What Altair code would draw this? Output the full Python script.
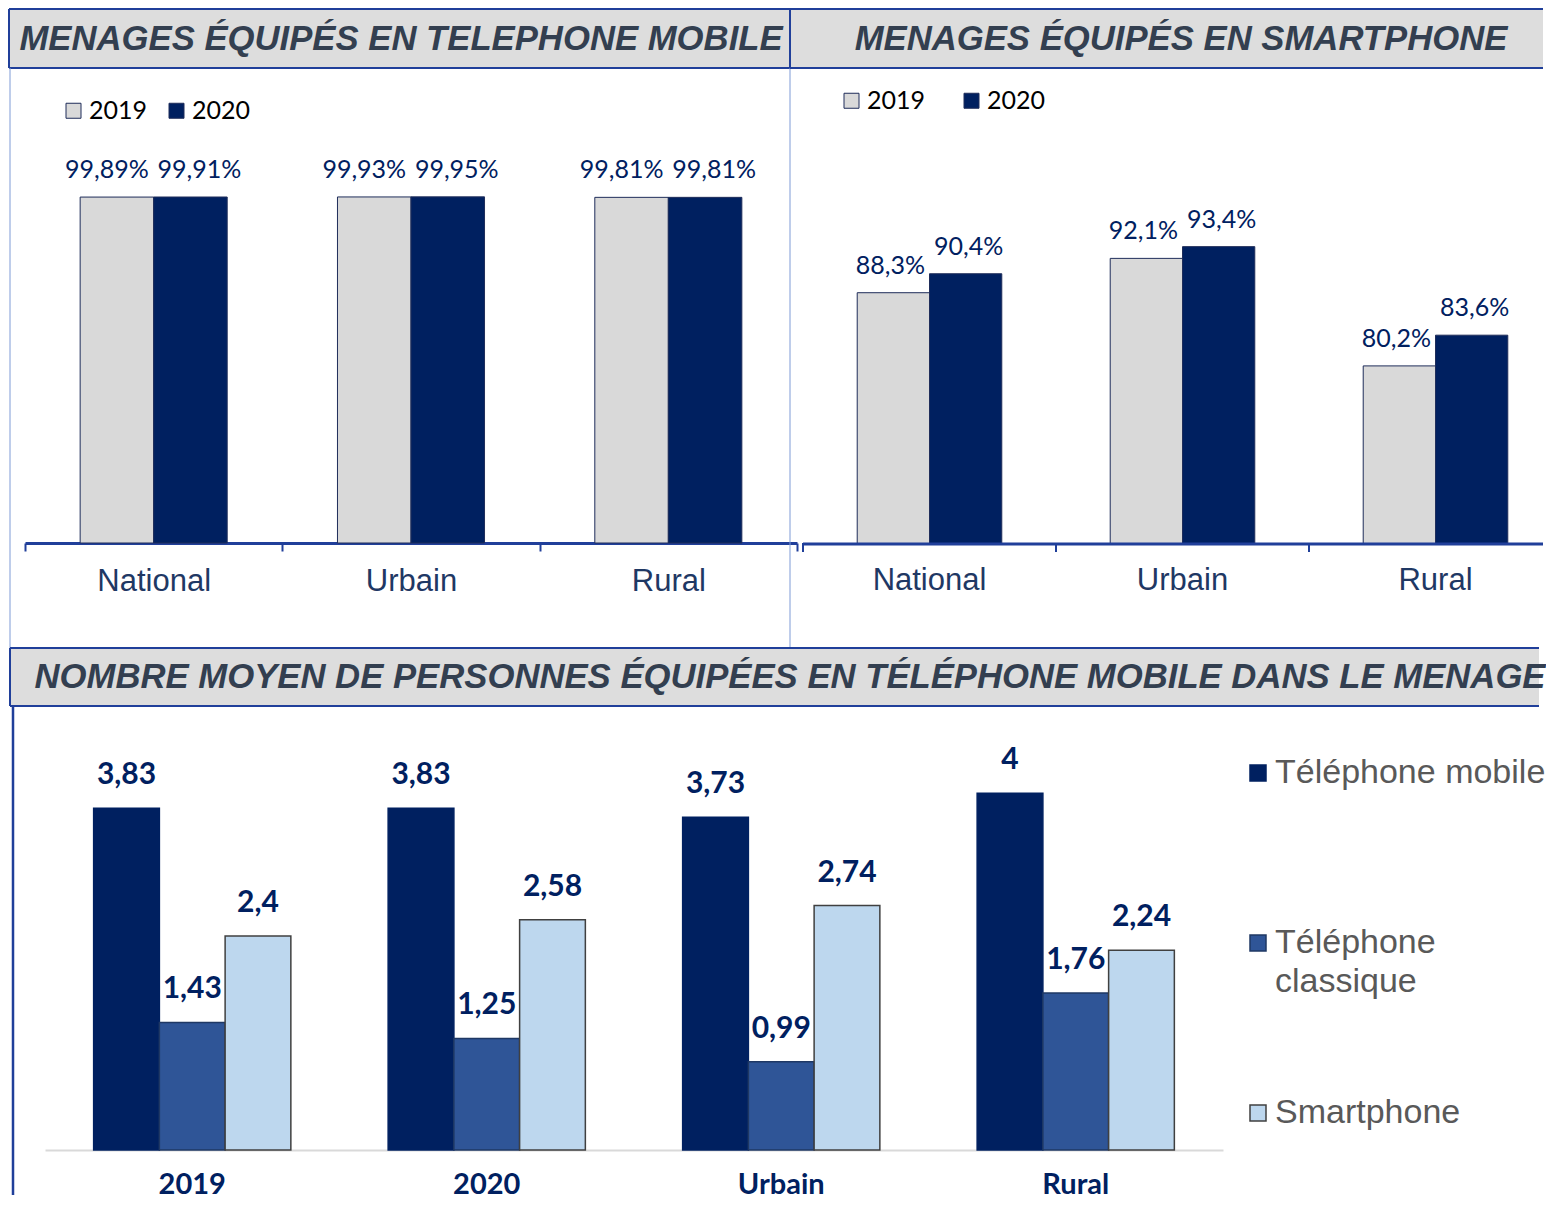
import altair as alt
import pandas as pd

# ---------------- data ----------------
regions = ["National", "Urbain", "Rural"]
years = ["2019", "2020"]
mobile_2019 = [99.89, 99.93, 99.81]
mobile_2020 = [99.91, 99.95, 99.81]
smart_2019 = [88.3, 92.1, 80.2]
smart_2020 = [90.4, 93.4, 83.6]

groups = ["2019", "2020", "Urbain", "Rural"]
series = ["Téléphone mobile", "Téléphone classique", "Smartphone"]
nb_mobile = [3.83, 3.83, 3.73, 4]
nb_classique = [1.43, 1.25, 0.99, 1.76]
nb_smartphone = [2.4, 2.58, 2.74, 2.24]

titles = [
    "MENAGES ÉQUIPÉS EN TELEPHONE MOBILE",
    "MENAGES ÉQUIPÉS EN SMARTPHONE",
    "NOMBRE MOYEN DE PERSONNES ÉQUIPÉES EN TÉLÉPHONE MOBILE DANS LE MENAGE",
]


def fr(v, dec=None):
    s = f"{v:.{dec}f}" if dec is not None else f"{v:g}"
    return s.replace(".", ",")


def pct_table(v19, v20, dec):
    rows = []
    for r, a, b in zip(regions, v19, v20):
        rows.append({"region": r, "year": years[0], "value": a, "label": fr(a, dec) + "%"})
        rows.append({"region": r, "year": years[1], "value": b, "label": fr(b, dec) + "%"})
    return pd.DataFrame(rows)


df_mob = pct_table(mobile_2019, mobile_2020, 2)
df_smart = pct_table(smart_2019, smart_2020, 1)

rows = []
for g, a, b, c in zip(groups, nb_mobile, nb_classique, nb_smartphone):
    for s, v in zip(series, (a, b, c)):
        rows.append({"group": g, "series": s, "value": v, "label": fr(v)})
df_nb = pd.DataFrame(rows)

# ---------------- styles ----------------
NAVY = "#002060"
LIGHT = "#D9D9D9"
FRAME = "#203F9A"
THIN = "#7F9BD6"
TITLE_FILL = "#DDDDDD"
TITLE_COLOR = "#333F50"
AXIS_TXT = "#1F3864"
CAL = "Lato"
ARIAL = "Liberation Sans"

TOP_H = 356
LEFT_W = 772
RIGHT_W = 740
RIGHT_RANGE = 759
BOT_W = 1516
BOT_H = 410


def title_box(title, x0, x1, y0, y1, tx, ty, left=True):
    d = alt.Chart(pd.DataFrame({"title": [title]}))
    layers = [
        d.mark_rect(color=TITLE_FILL).encode(
            x=alt.value(x0), x2=alt.value(x1), y=alt.value(y0), y2=alt.value(y1)),
        d.mark_rule(color=FRAME, strokeWidth=2).encode(
            x=alt.value(x0), x2=alt.value(x1), y=alt.value(y0)),
        d.mark_rule(color=FRAME, strokeWidth=2).encode(
            x=alt.value(x0), x2=alt.value(x1), y=alt.value(y1)),
    ]
    if left:
        layers.append(d.mark_rule(color=FRAME, strokeWidth=2).encode(
            x=alt.value(x0), y=alt.value(y0), y2=alt.value(y1)))
    layers.append(d.mark_text(font=ARIAL, fontSize=34.7, fontWeight="bold", fontStyle="italic",
                              color=TITLE_COLOR, align="center", baseline="middle").encode(
        x=alt.value(tx), y=alt.value(ty), text="title:N"))
    return layers


def vline(x, y0, y1, color, w):
    return alt.Chart(pd.DataFrame({"k": [0]})).mark_rule(color=color, strokeWidth=w).encode(
        x=alt.value(x), y=alt.value(y0), y2=alt.value(y1))


def pct_panel(df, width, xrange, ydomain, title_layers, legend_x, legend_y, col_pad, dx19, dx20,
              clip, native_axis):
    scale_x = alt.Scale(paddingInner=0, paddingOuter=0) if xrange is None else \
        alt.Scale(range=[0, xrange], paddingInner=0, paddingOuter=0)
    if native_axis:
        axis = alt.Axis(title=None, labelAngle=0, domainColor=FRAME, domainWidth=3,
                        tickColor=FRAME, tickWidth=2, tickSize=8, tickBand="extent",
                        labelFont=ARIAL, labelFontSize=31, labelColor=AXIS_TXT,
                        labelPadding=15, grid=False)
    else:
        axis = None
    xenc = alt.X("region:N", sort=regions, scale=scale_x, axis=axis)
    xoff = alt.XOffset("year:N", sort=years,
                       scale=alt.Scale(domain=years, paddingInner=0, paddingOuter=0.75))
    yenc = alt.Y("value:Q", scale=alt.Scale(domain=ydomain, zero=False), axis=None)
    base = alt.Chart(df)
    bars = base.mark_bar(stroke="#1F2D5A", strokeWidth=1, clip=clip).encode(
        x=xenc, xOffset=xoff, y=yenc,
        color=alt.Color("year:N", sort=years,
                        scale=alt.Scale(domain=years, range=[LIGHT, NAVY]),
                        legend=alt.Legend(title=None, orient="none", legendX=legend_x, legendY=legend_y,
                                          direction="horizontal", symbolType="square", symbolSize=225,
                                          symbolStrokeColor="#1F2D5A", symbolStrokeWidth=1,
                                          labelFont=CAL, labelFontSize=25, labelColor="#000000",
                                          labelOffset=3, columnPadding=col_pad, padding=0)))
    t19 = base.transform_filter(alt.datum.year == years[0]).mark_text(
        font=CAL, fontSize=25, color=NAVY, dy=-27, dx=dx19, baseline="middle").encode(
        x=xenc, xOffset=xoff, y=yenc, text="label:N")
    t20 = base.transform_filter(alt.datum.year == years[1]).mark_text(
        font=CAL, fontSize=25, color=NAVY, dy=-27, dx=dx20, baseline="middle").encode(
        x=xenc, xOffset=xoff, y=yenc, text="label:N")
    layers = list(title_layers) + [bars, t19, t20]
    if not native_axis:
        one = base.transform_filter(alt.datum.year == years[0])
        # axis line, band-edge ticks and category labels drawn through the same band scale
        layers.append(alt.Chart(pd.DataFrame({"k": [0]})).mark_rule(color=FRAME, strokeWidth=3).encode(
            x=alt.value(0), x2=alt.value(width), y=alt.value(TOP_H + 1)))
        layers.append(one.mark_rule(color=FRAME, strokeWidth=2).encode(
            x=alt.X("region:N", sort=regions, scale=scale_x, axis=None, bandPosition=0),
            y=alt.value(TOP_H), y2=alt.value(TOP_H + 9)))
        layers.append(one.mark_text(font=ARIAL, fontSize=31, color=AXIS_TXT, baseline="top").encode(
            x=alt.X("region:N", sort=regions, scale=scale_x, axis=None, bandPosition=0.5),
            y=alt.value(TOP_H + 23), text="region:N"))
    return alt.layer(*layers).properties(width=width, height=TOP_H)


left_deco = title_box(titles[0], -16, 765, -178, -119, 376, -147) + [
    vline(765, -119, 461, THIN, 1),
    vline(-15, -119, 461, THIN, 1),
]
left = pct_panel(df_mob, LEFT_W, None, [0, 102.8], left_deco, 36, -89, 16, -10, 9, False, True)

right_deco = title_box(titles[1], -13, RIGHT_W, -178, -119, 378, -147)
right = pct_panel(df_smart, RIGHT_W, RIGHT_RANGE, [60.6, 100], right_deco, 36, -99, 33, -3, 3,
                  True, False)

# bottom panel
xb = alt.X("group:N", sort=groups,
           scale=alt.Scale(range=[20, 1198], paddingInner=0, paddingOuter=0),
           axis=alt.Axis(title=None, labelAngle=0, domainColor="#D9D9D9", domainWidth=2, ticks=False,
                         labelFont=CAL, labelFontSize=29, labelFontWeight="bold", labelColor=NAVY,
                         labelPadding=20, grid=False))
xbo = alt.XOffset("series:N", sort=series,
                  scale=alt.Scale(domain=series, paddingInner=0, paddingOuter=0.74))
yb = alt.Y("value:Q", scale=alt.Scale(domain=[0, 4.596]), axis=None)
bbase = alt.Chart(df_nb)
bbars = bbase.mark_bar(strokeWidth=1.5).encode(
    x=xb, xOffset=xbo, y=yb,
    color=alt.Color("series:N", sort=series,
                    scale=alt.Scale(domain=series, range=[NAVY, "#2F5597", "#BDD7EE"]),
                    legend=alt.Legend(title=None, orient="none", legendX=1213, legendY=16,
                                      direction="vertical", symbolType="square", symbolSize=256,
                                      symbolOffset=3,
                                      symbolStrokeColor="#26304F", symbolStrokeWidth=1.5,
                                      labelFont=ARIAL, labelFontSize=34, labelColor="#595959",
                                      labelOffset=0, labelLimit=400, rowPadding=97, padding=0,
                                      labelExpr="datum.label == 'Téléphone classique' ? ['Téléphone', 'classique'] : [datum.label, '']")),
    stroke=alt.Stroke("series:N", sort=series,
                      scale=alt.Scale(domain=series, range=[NAVY, "#1F3864", "#404040"]),
                      legend=None))
btext = bbase.mark_text(font=CAL, fontSize=30, fontWeight="bold", color=NAVY, dy=-33,
                        baseline="middle").encode(x=xb, xOffset=xbo, y=yb, text="label:N")
bottom_deco = title_box(titles[2], -15, BOT_W - 2, -92, -34, 765, -62) + [
    vline(-12, -34, 455, FRAME, 2.5),
]
bottom = alt.layer(*bottom_deco, bbars, btext).properties(width=BOT_W, height=BOT_H)

top_row = alt.hconcat(left, right, spacing=6, bounds="flush").resolve_scale(
    x="independent", y="independent", xOffset="independent", color="independent").resolve_legend(
    color="independent")

chart = alt.vconcat(top_row, bottom, spacing=553, bounds="flush").resolve_scale(
    x="independent", y="independent", xOffset="independent", color="independent",
    stroke="independent").resolve_legend(color="independent").properties(
    padding=0).configure(
    view=alt.ViewConfig(strokeWidth=0), style={"guide-label": {"lineHeight": 39}})

chart.save("out.html", embed_options={"renderer": "svg", "actions": False})
